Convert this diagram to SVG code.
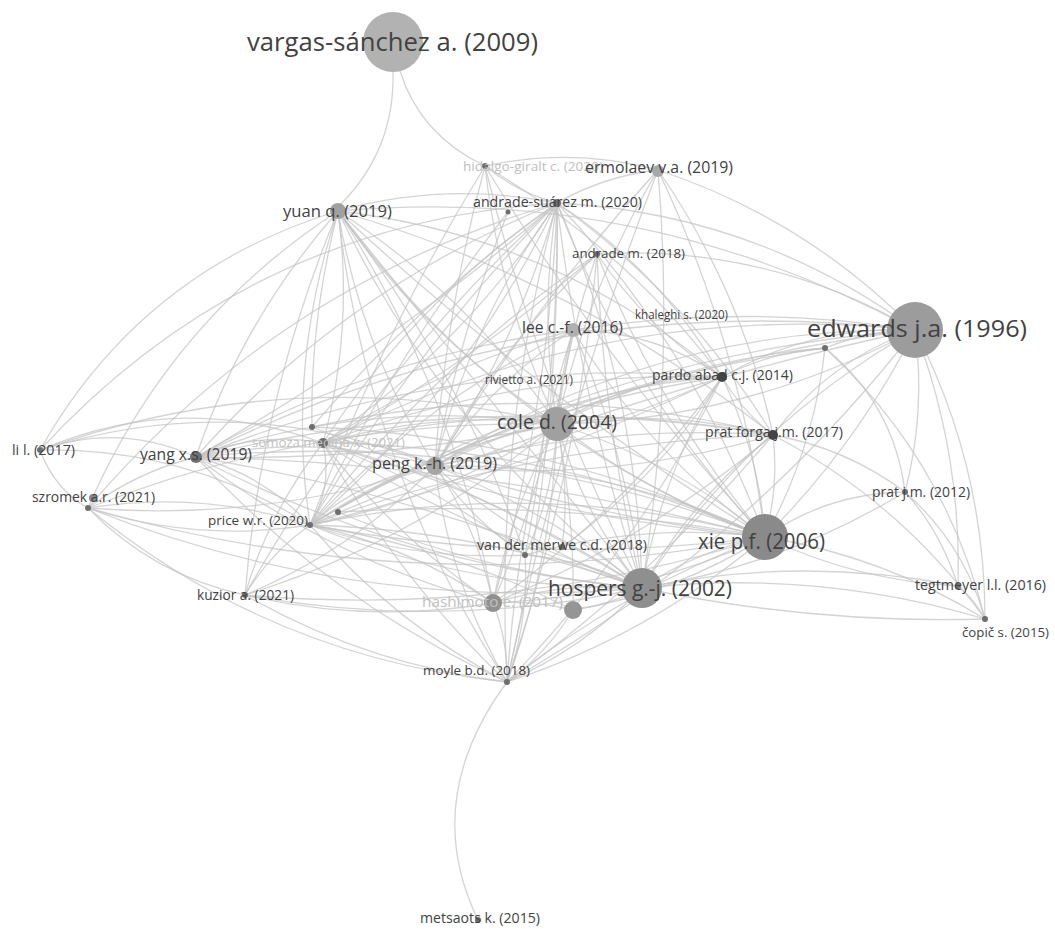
<svg xmlns="http://www.w3.org/2000/svg" width="1055" height="929" viewBox="0 0 1055 929">
<style>
.e{fill:none;stroke:#c4c4c4;stroke-width:1.3;stroke-opacity:0.72}
.t{font-family:"Open Sans","DejaVu Sans",sans-serif;fill:#424242}
.f{font-family:"Open Sans","DejaVu Sans",sans-serif;fill:#c0c0c0}
.d{fill:#6e6e6e}
</style>
<rect width="1055" height="929" fill="#ffffff"/>
<g id="edges">
<path class="e" d="M393,72 Q395,150 340,205"/>
<path class="e" d="M400,71 Q420,135 485,166"/>
<path class="e" d="M338,211 Q446,181 557,203"/>
<path class="e" d="M338,211 Q426,339 557,424"/>
<path class="e" d="M338,211 Q361,348 435,466"/>
<path class="e" d="M338,211 Q286,365 310,525"/>
<path class="e" d="M338,211 Q354,328 323,443"/>
<path class="e" d="M338,211 Q242,320 196,457"/>
<path class="e" d="M338,211 Q503,438 765,537"/>
<path class="e" d="M338,211 Q445,436 642,588"/>
<path class="e" d="M338,211 Q366,467 507,682"/>
<path class="e" d="M338,211 Q455,391 493,603"/>
<path class="e" d="M338,211 Q555,236 722,377"/>
<path class="e" d="M338,211 Q168,322 88,508"/>
<path class="e" d="M338,211 Q141,271 40,450"/>
<path class="e" d="M557,203 Q539,313 557,424"/>
<path class="e" d="M557,203 Q470,322 435,466"/>
<path class="e" d="M557,203 Q466,389 310,525"/>
<path class="e" d="M557,203 Q416,300 323,443"/>
<path class="e" d="M557,203 Q694,349 765,537"/>
<path class="e" d="M557,203 Q638,387 642,588"/>
<path class="e" d="M557,203 Q494,438 507,682"/>
<path class="e" d="M557,203 Q549,407 493,603"/>
<path class="e" d="M557,203 Q660,270 722,377"/>
<path class="e" d="M557,203 Q688,297 773,435"/>
<path class="e" d="M557,203 Q346,287 196,457"/>
<path class="e" d="M557,203 Q559,381 525,555"/>
<path class="e" d="M557,203 Q755,213 915,330"/>
<path class="e" d="M557,203 Q277,285 88,508"/>
<path class="e" d="M508,212 Q393,359 310,525"/>
<path class="e" d="M508,212 Q459,335 435,466"/>
<path class="e" d="M485,166 Q572,147 658,170"/>
<path class="e" d="M485,166 Q517,192 557,203"/>
<path class="e" d="M485,166 Q500,301 557,424"/>
<path class="e" d="M485,166 Q445,314 435,466"/>
<path class="e" d="M485,166 Q625,248 722,377"/>
<path class="e" d="M658,170 Q742,291 773,435"/>
<path class="e" d="M658,170 Q741,345 765,537"/>
<path class="e" d="M658,170 Q604,176 557,203"/>
<path class="e" d="M658,170 Q587,289 557,424"/>
<path class="e" d="M658,170 Q532,307 435,466"/>
<path class="e" d="M597,254 Q568,337 557,424"/>
<path class="e" d="M597,254 Q432,367 310,525"/>
<path class="e" d="M597,254 Q658,409 765,537"/>
<path class="e" d="M597,254 Q603,423 642,588"/>
<path class="e" d="M597,254 Q471,365 323,443"/>
<path class="e" d="M597,254 Q767,244 915,330"/>
<path class="e" d="M573,330 Q490,384 435,466"/>
<path class="e" d="M573,330 Q422,401 310,525"/>
<path class="e" d="M573,330 Q648,453 765,537"/>
<path class="e" d="M573,330 Q628,454 642,588"/>
<path class="e" d="M573,330 Q744,303 915,330"/>
<path class="e" d="M573,330 Q439,367 323,443"/>
<path class="e" d="M573,330 Q519,502 507,682"/>
<path class="e" d="M557,424 Q672,460 765,537"/>
<path class="e" d="M557,424 Q583,515 642,588"/>
<path class="e" d="M557,424 Q492,433 435,466"/>
<path class="e" d="M557,424 Q444,499 310,525"/>
<path class="e" d="M557,424 Q438,410 323,443"/>
<path class="e" d="M557,424 Q372,397 196,457"/>
<path class="e" d="M557,424 Q553,557 507,682"/>
<path class="e" d="M557,424 Q511,508 493,603"/>
<path class="e" d="M557,424 Q747,420 915,330"/>
<path class="e" d="M557,424 Q632,376 722,377"/>
<path class="e" d="M557,424 Q666,408 773,435"/>
<path class="e" d="M557,424 Q314,419 88,508"/>
<path class="e" d="M557,424 Q418,541 245,595"/>
<path class="e" d="M435,466 Q608,462 765,537"/>
<path class="e" d="M435,466 Q526,548 642,588"/>
<path class="e" d="M435,466 Q364,477 310,525"/>
<path class="e" d="M435,466 Q382,438 323,443"/>
<path class="e" d="M435,466 Q317,433 196,457"/>
<path class="e" d="M435,466 Q449,581 507,682"/>
<path class="e" d="M435,466 Q478,529 493,603"/>
<path class="e" d="M435,466 Q568,387 722,377"/>
<path class="e" d="M435,466 Q607,484 773,435"/>
<path class="e" d="M435,466 Q655,326 915,330"/>
<path class="e" d="M435,466 Q240,387 40,450"/>
<path class="e" d="M435,466 Q266,522 88,508"/>
<path class="e" d="M435,466 Q353,550 245,595"/>
<path class="e" d="M765,537 Q698,550 642,588"/>
<path class="e" d="M765,537 Q539,476 310,525"/>
<path class="e" d="M765,537 Q536,567 310,525"/>
<path class="e" d="M765,537 Q553,446 323,443"/>
<path class="e" d="M765,537 Q490,429 196,457"/>
<path class="e" d="M765,537 Q650,635 507,682"/>
<path class="e" d="M765,537 Q636,597 493,603"/>
<path class="e" d="M765,537 Q643,522 525,555"/>
<path class="e" d="M765,537 Q759,453 722,377"/>
<path class="e" d="M765,537 Q779,487 773,435"/>
<path class="e" d="M765,537 Q857,445 915,330"/>
<path class="e" d="M765,537 Q828,493 905,492"/>
<path class="e" d="M765,537 Q883,556 985,619"/>
<path class="e" d="M765,537 Q857,581 958,586"/>
<path class="e" d="M765,537 Q423,604 88,508"/>
<path class="e" d="M765,537 Q511,618 245,595"/>
<path class="e" d="M642,588 Q470,590 310,525"/>
<path class="e" d="M642,588 Q494,490 323,443"/>
<path class="e" d="M642,588 Q406,567 196,457"/>
<path class="e" d="M642,588 Q584,648 507,682"/>
<path class="e" d="M642,588 Q566,581 493,603"/>
<path class="e" d="M642,588 Q661,474 722,377"/>
<path class="e" d="M642,588 Q692,498 773,435"/>
<path class="e" d="M642,588 Q747,426 915,330"/>
<path class="e" d="M642,588 Q817,569 985,619"/>
<path class="e" d="M642,588 Q812,624 985,619"/>
<path class="e" d="M642,588 Q800,555 958,586"/>
<path class="e" d="M642,588 Q444,631 245,595"/>
<path class="e" d="M642,588 Q355,614 88,508"/>
<path class="e" d="M310,525 Q333,487 323,443"/>
<path class="e" d="M310,525 Q263,474 196,457"/>
<path class="e" d="M310,525 Q393,623 507,682"/>
<path class="e" d="M310,525 Q409,546 493,603"/>
<path class="e" d="M310,525 Q414,561 525,555"/>
<path class="e" d="M310,525 Q501,410 722,377"/>
<path class="e" d="M310,525 Q534,443 773,435"/>
<path class="e" d="M310,525 Q589,355 915,330"/>
<path class="e" d="M310,525 Q201,490 88,508"/>
<path class="e" d="M310,525 Q197,543 88,508"/>
<path class="e" d="M310,525 Q270,553 245,595"/>
<path class="e" d="M310,525 Q186,447 40,450"/>
<path class="e" d="M338,512 Q484,574 642,588"/>
<path class="e" d="M338,512 Q553,499 765,537"/>
<path class="e" d="M323,443 Q396,577 507,682"/>
<path class="e" d="M323,443 Q516,370 722,377"/>
<path class="e" d="M323,443 Q602,298 915,330"/>
<path class="e" d="M323,443 Q257,431 196,457"/>
<path class="e" d="M323,443 Q180,390 40,450"/>
<path class="e" d="M312,427 Q550,437 765,537"/>
<path class="e" d="M312,427 Q485,491 642,588"/>
<path class="e" d="M312,427 Q544,376 773,435"/>
<path class="e" d="M196,457 Q329,601 507,682"/>
<path class="e" d="M196,457 Q449,354 722,377"/>
<path class="e" d="M196,457 Q537,286 915,330"/>
<path class="e" d="M196,457 Q119,422 40,450"/>
<path class="e" d="M196,457 Q137,472 88,508"/>
<path class="e" d="M507,682 Q508,641 493,603"/>
<path class="e" d="M507,682 Q547,653 573,610"/>
<path class="e" d="M507,682 Q367,665 245,595"/>
<path class="e" d="M507,682 Q271,658 88,508"/>
<path class="e" d="M507,682 Q639,547 722,377"/>
<path class="e" d="M507,682 Q420,800 478,920"/>
<path class="e" d="M507,682 Q746,547 915,330"/>
<path class="e" d="M507,682 Q529,620 525,555"/>
<path class="e" d="M525,555 Q554,493 557,424"/>
<path class="e" d="M562,547 Q659,478 722,377"/>
<path class="e" d="M525,555 Q459,368 338,211"/>
<path class="e" d="M722,377 Q812,325 915,330"/>
<path class="e" d="M722,377 Q742,411 773,435"/>
<path class="e" d="M722,377 Q626,508 493,603"/>
<path class="e" d="M773,435 Q828,361 915,330"/>
<path class="e" d="M773,435 Q846,448 905,492"/>
<path class="e" d="M773,435 Q901,502 985,619"/>
<path class="e" d="M773,435 Q655,575 507,682"/>
<path class="e" d="M773,435 Q646,541 493,603"/>
<path class="e" d="M825,348 Q870,330 915,330"/>
<path class="e" d="M825,348 Q894,404 905,492"/>
<path class="e" d="M825,348 Q814,449 765,537"/>
<path class="e" d="M825,348 Q550,385 310,525"/>
<path class="e" d="M825,348 Q683,359 557,424"/>
<path class="e" d="M825,348 Q946,460 985,619"/>
<path class="e" d="M825,348 Q770,352 722,377"/>
<path class="e" d="M915,330 Q985,466 985,619"/>
<path class="e" d="M915,330 Q926,412 905,492"/>
<path class="e" d="M915,330 Q644,184 338,211"/>
<path class="e" d="M915,330 Q806,219 658,170"/>
<path class="e" d="M915,330 Q962,454 958,586"/>
<path class="e" d="M905,492 Q964,544 985,619"/>
<path class="e" d="M905,492 Q940,530 958,586"/>
<path class="e" d="M905,492 Q783,566 642,588"/>
<path class="e" d="M958,586 Q975,600 985,619"/>
<path class="e" d="M40,450 Q55,490 88,508"/>
<path class="e" d="M88,508 Q153,575 245,595"/>
<path class="e" d="M40,450 Q249,223 557,203"/>
<path class="e" d="M40,450 Q295,360 557,424"/>
<path class="e" d="M245,595 Q368,624 493,603"/>
<path class="e" d="M245,595 Q269,511 323,443"/>
<path class="e" d="M245,595 Q261,396 338,211"/>
<path class="e" d="M493,603 Q533,600 573,610"/>
<path class="e" d="M573,610 Q610,605 642,588"/>
<path class="e" d="M573,610 Q575,517 557,424"/>
<path class="e" d="M573,610 Q448,547 310,525"/>
<path class="e" d="M573,610 Q676,593 765,537"/>
<path class="e" d="M338,211 Q469,296 557,424"/>
<path class="e" d="M338,211 Q535,395 765,537"/>
<path class="e" d="M338,211 Q490,400 642,588"/>
<path class="e" d="M557,203 Q628,391 765,537"/>
<path class="e" d="M557,203 Q580,400 642,588"/>
<path class="e" d="M557,203 Q517,344 435,466"/>
<path class="e" d="M557,203 Q414,349 310,525"/>
<path class="e" d="M557,203 Q464,346 323,443"/>
<path class="e" d="M557,203 Q561,446 507,682"/>
<path class="e" d="M557,203 Q389,348 196,457"/>
<path class="e" d="M557,203 Q370,374 245,595"/>
<path class="e" d="M485,166 Q607,366 765,537"/>
<path class="e" d="M485,166 Q538,386 642,588"/>
<path class="e" d="M485,166 Q380,337 310,525"/>
<path class="e" d="M658,170 Q675,380 642,588"/>
<path class="e" d="M658,170 Q562,420 507,682"/>
<path class="e" d="M597,254 Q499,347 435,466"/>
<path class="e" d="M597,254 Q578,473 507,682"/>
<path class="e" d="M597,254 Q647,328 722,377"/>
<path class="e" d="M573,330 Q560,377 557,424"/>
<path class="e" d="M573,330 Q655,331 722,377"/>
<path class="e" d="M573,330 Q372,356 196,457"/>
<path class="e" d="M573,330 Q549,471 493,603"/>
<path class="e" d="M557,424 Q652,497 765,537"/>
<path class="e" d="M557,424 Q423,450 310,525"/>
<path class="e" d="M557,424 Q379,462 196,457"/>
<path class="e" d="M557,424 Q570,490 562,547"/>
<path class="e" d="M435,466 Q596,518 765,537"/>
<path class="e" d="M435,466 Q548,510 642,588"/>
<path class="e" d="M435,466 Q664,360 915,330"/>
<path class="e" d="M435,466 Q602,424 773,435"/>
<path class="e" d="M435,466 Q584,439 722,377"/>
<path class="e" d="M435,466 Q471,520 525,555"/>
<path class="e" d="M765,537 Q538,517 323,443"/>
<path class="e" d="M765,537 Q485,463 196,457"/>
<path class="e" d="M765,537 Q624,589 507,682"/>
<path class="e" d="M642,588 Q474,535 323,443"/>
<path class="e" d="M642,588 Q481,530 310,525"/>
<path class="e" d="M642,588 Q427,496 196,457"/>
<path class="e" d="M310,525 Q603,397 915,330"/>
<path class="e" d="M310,525 Q523,472 722,377"/>
<path class="e" d="M323,443 Q547,394 773,435"/>
<path class="e" d="M312,427 Q421,300 557,203"/>
<path class="e" d="M312,427 Q310,320 338,211"/>
<path class="e" d="M196,457 Q482,388 773,435"/>
<path class="e" d="M493,603 Q395,537 323,443"/>
<path class="e" d="M493,603 Q330,560 196,457"/>
<path class="e" d="M525,555 Q433,483 323,443"/>
<path class="e" d="M525,555 Q585,560 642,588"/>
<path class="e" d="M773,435 Q578,280 338,211"/>
</g>
<g id="n-vargas"><circle cx="393" cy="42" r="30" fill="#b2b2b2"/><text class="t" x="247" y="51" font-size="26" textLength="291" lengthAdjust="spacingAndGlyphs">vargas-sánchez a. (2009)</text></g>
<g id="n-edwards"><circle cx="915" cy="330" r="28" fill="#9c9c9c"/><text class="t" x="807" y="337" font-size="24.5" textLength="220" lengthAdjust="spacingAndGlyphs">edwards j.a. (1996)</text></g>
<g id="n-xie"><circle cx="765" cy="537" r="23" fill="#8a8a8a"/><text class="t" x="698" y="549" font-size="21" textLength="127" lengthAdjust="spacingAndGlyphs">xie p.f. (2006)</text></g>
<g id="n-hospers"><circle cx="642" cy="588" r="20" fill="#8f8f8f"/><text class="t" x="548" y="596" font-size="21" textLength="184" lengthAdjust="spacingAndGlyphs">hospers g.-j. (2002)</text></g>
<g id="n-cole"><circle cx="557" cy="424" r="17" fill="#a0a0a0"/><text class="t" x="497" y="429" font-size="19.5" textLength="120" lengthAdjust="spacingAndGlyphs">cole d. (2004)</text></g>
<g id="n-peng"><circle cx="435" cy="466" r="9" fill="#a5a5a5"/><text class="t" x="372" y="469" font-size="16.4" textLength="125" lengthAdjust="spacingAndGlyphs">peng k.-h. (2019)</text></g>
<g id="n-yuan"><circle cx="338" cy="211" r="8" fill="#a0a0a0"/><text class="t" x="283" y="217" font-size="16.5" textLength="109" lengthAdjust="spacingAndGlyphs">yuan q. (2019)</text></g>
<g id="n-yang"><circle cx="196" cy="457" r="6" fill="#707070"/><text class="t" x="140" y="460" font-size="15.9" textLength="112" lengthAdjust="spacingAndGlyphs">yang x.s. (2019)</text></g>
<g id="n-lee"><circle cx="573" cy="330" r="7" fill="#b0b0b0"/><text class="t" x="522" y="333" font-size="15.6" textLength="101" lengthAdjust="spacingAndGlyphs">lee c.-f. (2016)</text></g>
<g id="n-hidalgo"><circle cx="485" cy="166" r="3" class="d"/><text class="f" x="463" y="171" font-size="13" textLength="140" lengthAdjust="spacingAndGlyphs">hidalgo-giralt c. (2020)</text></g>
<g id="n-ermolaev"><circle cx="658" cy="171" r="6" fill="#a8a8a8"/><text class="t" x="585" y="173" font-size="15.8" textLength="148" lengthAdjust="spacingAndGlyphs">ermolaev v.a. (2019)</text></g>
<g id="n-andrade-suarez"><circle cx="557" cy="203" r="4" class="d"/><circle cx="508" cy="212" r="2.5" class="d"/><text class="t" x="473" y="207" font-size="14.2" textLength="169" lengthAdjust="spacingAndGlyphs">andrade-suárez m. (2020)</text></g>
<g id="n-andrade"><circle cx="597" cy="254" r="3" class="d"/><text class="t" x="572" y="258" font-size="13.3" textLength="113" lengthAdjust="spacingAndGlyphs">andrade m. (2018)</text></g>
<g id="n-khaleghi"><circle cx="825" cy="348" r="3" class="d"/><text class="t" x="635" y="319" font-size="11.7" textLength="93" lengthAdjust="spacingAndGlyphs">khaleghi s. (2020)</text></g>
<g id="n-rivietto"><text class="t" x="485" y="384" font-size="11.8" textLength="88" lengthAdjust="spacingAndGlyphs">rivietto a. (2021)</text></g>
<g id="n-pardo"><circle cx="722" cy="377" r="5" fill="#444"/><text class="t" x="652" y="380" font-size="14" textLength="141" lengthAdjust="spacingAndGlyphs">pardo abad c.j. (2014)</text></g>
<g id="n-pratforga"><circle cx="773" cy="435" r="5" fill="#444"/><text class="t" x="705" y="437" font-size="14.2" textLength="138" lengthAdjust="spacingAndGlyphs">prat forga j.m. (2017)</text></g>
<g id="n-prat"><circle cx="905" cy="492" r="3" class="d"/><text class="t" x="872" y="497" font-size="13.9" textLength="98" lengthAdjust="spacingAndGlyphs">prat j.m. (2012)</text></g>
<g id="n-tegtmeyer"><circle cx="958" cy="586" r="3" class="d"/><text class="t" x="915" y="590" font-size="14.3" textLength="131" lengthAdjust="spacingAndGlyphs">tegtmeyer l.l. (2016)</text></g>
<g id="n-copic"><circle cx="985" cy="619" r="3" class="d"/><text class="t" x="962" y="637" font-size="13.3" textLength="87" lengthAdjust="spacingAndGlyphs">čopič s. (2015)</text></g>
<g id="n-li"><circle cx="40" cy="450" r="3" class="d"/><text class="t" x="12" y="455" font-size="14.2" textLength="63" lengthAdjust="spacingAndGlyphs">li l. (2017)</text></g>
<g id="n-szromek"><circle cx="88" cy="508" r="3" class="d"/><circle cx="93" cy="498" r="4" fill="#888"/><text class="t" x="32" y="502" font-size="13.9" textLength="123" lengthAdjust="spacingAndGlyphs">szromek a.r. (2021)</text></g>
<g id="n-somoza"><circle cx="323" cy="443" r="5" fill="#707070"/><circle cx="312" cy="427" r="3" class="d"/><text class="f" x="252" y="447" font-size="13.2" textLength="153" lengthAdjust="spacingAndGlyphs">somoza medina x. (2021)</text></g>
<g id="n-price"><circle cx="310" cy="525" r="3" class="d"/><circle cx="338" cy="512" r="3" class="d"/><text class="t" x="208" y="525" font-size="13.4" textLength="100" lengthAdjust="spacingAndGlyphs">price w.r. (2020)</text></g>
<g id="n-kuzior"><circle cx="245" cy="595" r="3" class="d"/><text class="t" x="197" y="600" font-size="13.7" textLength="97" lengthAdjust="spacingAndGlyphs">kuzior a. (2021)</text></g>
<g id="n-vandermerwe"><circle cx="525" cy="555" r="3" class="d"/><circle cx="562" cy="547" r="3" class="d"/><text class="t" x="477" y="550" font-size="14.1" textLength="170" lengthAdjust="spacingAndGlyphs">van der merwe c.d. (2018)</text></g>
<g id="n-hashimoto"><circle cx="493" cy="603" r="9" fill="#909090"/><text class="f" x="422" y="607" font-size="15.3" textLength="141" lengthAdjust="spacingAndGlyphs">hashimoto e. (2017)</text></g>
<g id="n-unlabeled"><circle cx="573" cy="610" r="9" fill="#959595"/></g>
<g id="n-moyle"><circle cx="507" cy="682" r="3" class="d"/><text class="t" x="423" y="675" font-size="13.4" textLength="107" lengthAdjust="spacingAndGlyphs">moyle b.d. (2018)</text></g>
<g id="n-metsaots"><circle cx="478" cy="920" r="3" class="d"/><text class="t" x="420" y="923" font-size="14.2" textLength="120" lengthAdjust="spacingAndGlyphs">metsaots k. (2015)</text></g>
</svg>
